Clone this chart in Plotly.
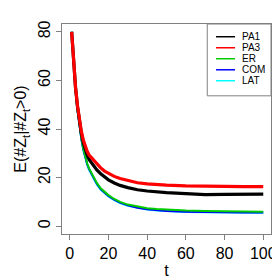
import plotly.graph_objects as go

t = [1, 2, 3, 4, 5, 6, 7, 8, 9, 10, 12, 14, 16, 18, 20, 23, 26, 30, 35, 40, 45, 50, 60, 70, 80, 90, 100]

pa1 = [80, 67, 57, 49.3, 43, 38.3, 34.5, 31.5, 29.2, 27.5, 25.2, 23.2, 21.6, 20.2, 19.1, 17.8, 16.8, 15.9, 15.0, 14.5, 14.1, 13.8, 13.4, 13.0, 13.1, 13.2, 13.2]
pa3 = [80, 67, 57, 49.5, 43.5, 39, 35.5, 32.8, 30.8, 29.3, 27.6, 25.6, 24, 22.7, 21.7, 20.5, 19.6, 18.7, 17.9, 17.4, 17.1, 16.9, 16.6, 16.4, 16.4, 16.3, 16.3]
er = [80, 66.5, 56, 48, 41.5, 36.3, 32, 28.5, 25.9, 23.8, 20.8, 17.8, 15.6, 14, 12.8, 11.2, 10.0, 8.9, 8.0, 7.4, 7.1, 6.8, 6.5, 6.3, 6.2, 6.1, 6.0]
com = [80, 66.5, 56, 48, 41.3, 36, 31.7, 28.2, 25.6, 23.5, 20.5, 17.5, 15.3, 13.7, 12.5, 10.9, 9.7, 8.6, 7.6, 7.0, 6.6, 6.3, 6.0, 5.8, 5.7, 5.6, 5.6]
lat = [80, 66.3, 55.7, 47.6, 41, 35.6, 31.3, 27.8, 25.3, 23.2, 20.2, 17.2, 15.0, 13.4, 12.2, 10.7, 9.5, 8.4, 7.5, 6.9, 6.5, 6.2, 5.9, 5.7, 5.6, 5.5, 5.5]

names = ["PA1", "PA3", "ER", "COM", "LAT"]
series = [pa1, pa3, er, com, lat]
colors = ["#000000", "#FF0000", "#00CD00", "#0000FF", "#00FFFF"]
widths = [3.2, 3.2, 2, 2, 2]
draw_order = [4, 3, 2, 0, 1]

xticks = [0, 20, 40, 60, 80, 100]
yticks = [0, 20, 40, 60, 80]

FONT = "Liberation Sans, Arial, sans-serif"
GRAY = "#808080"

fig = go.Figure()
for i in draw_order:
    fig.add_trace(go.Scatter(x=t, y=series[i], mode="lines", name=names[i],
                             line=dict(color=colors[i], width=widths[i]),
                             showlegend=False))

# legend drawn manually (compact R-style)
shapes = [dict(type="rect", xref="paper", yref="paper", x0=0.695, x1=1.0, y0=0.658, y1=1.0,
               line=dict(color=GRAY, width=1), fillcolor="white", layer="below")]
annotations = []
ys = [0.9394, 0.8868, 0.8346, 0.7820, 0.7298]
for k, nm in enumerate(names):
    shapes.append(dict(type="line", xref="paper", yref="paper", x0=0.737, x1=0.828,
                       y0=ys[k], y1=ys[k], line=dict(color=colors[k], width=1.5)))
    annotations.append(dict(xref="paper", yref="paper", x=0.851, y=ys[k], text=nm,
                            showarrow=False, xanchor="left", yanchor="middle",
                            font=dict(family=FONT, size=10, color="black")))

fig.update_layout(
    width=280, height=280, autosize=False,
    margin=dict(l=49, r=16, t=16, b=49, pad=0),
    paper_bgcolor="white", plot_bgcolor="white",
    font=dict(family=FONT, color="black"),
    shapes=shapes, annotations=annotations,
    xaxis=dict(range=[-4, 104], tickvals=xticks, ticktext=[str(v) for v in xticks],
               ticks="outside", ticklen=5, tickcolor=GRAY, tickwidth=1,
               showline=True, mirror=True, linecolor=GRAY, linewidth=1,
               showgrid=False, zeroline=False, tickfont=dict(size=16),
               title=dict(text="t", font=dict(size=16), standoff=3)),
    yaxis=dict(range=[-3.2, 83.2], tickvals=yticks, ticktext=[str(v) for v in yticks],
               ticks="outside", ticklen=5, tickcolor=GRAY, tickwidth=1, tickangle=-90,
               showline=True, mirror=True, linecolor=GRAY, linewidth=1,
               showgrid=False, zeroline=False, tickfont=dict(size=16),
               title=dict(text="E(#Z<sub>t</sub>|#Z<sub>t</sub>&gt;0)", font=dict(size=16), standoff=4)),
)

fig.write_html("out.html")
